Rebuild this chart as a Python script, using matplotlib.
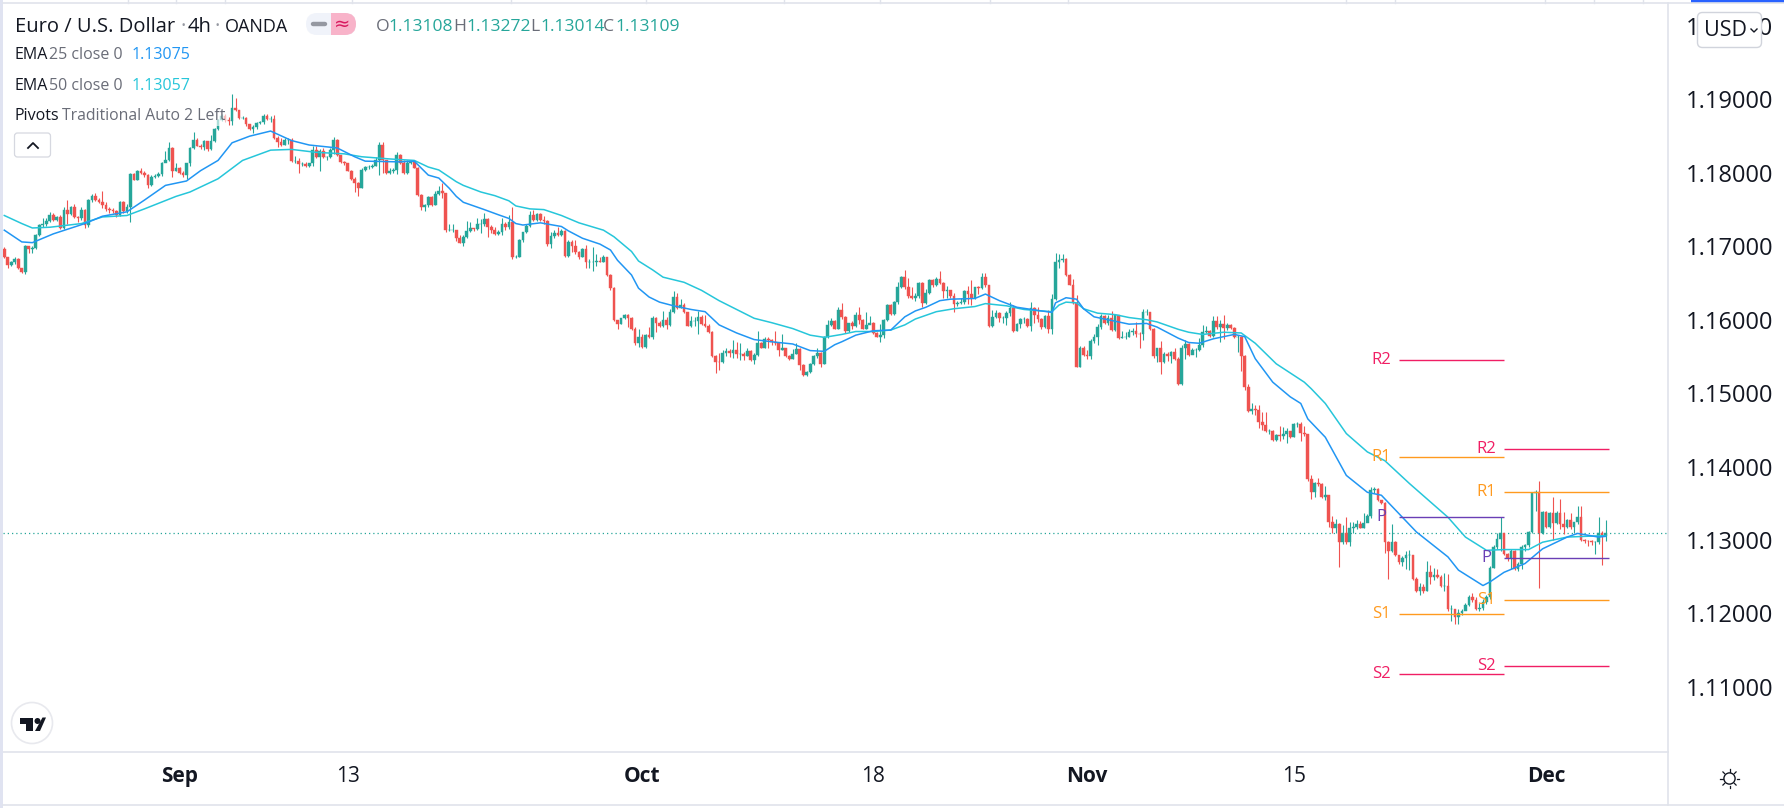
import matplotlib
matplotlib.use("Agg")
import matplotlib.pyplot as plt
import numpy as np
from matplotlib.patches import Rectangle, FancyBboxPatch, Circle, Polygon
from matplotlib.lines import Line2D

W, H = 1784, 808
FONT = "Open Sans"
plt.rcParams["font.family"] = [FONT, "DejaVu Sans"]

# All prices are in pips above 1.10000 (740 means 1.1740)
base_price = 1.10
pip = 0.0001
first_open = 697
close_pips = [
685,674,679,683,670,665,701,697,698,716,
729,730,735,743,736,740,725,749,744,754,
740,738,749,729,763,769,763,761,756,751,
749,748,742,761,748,754,799,791,802,800,
797,783,795,796,798,813,817,834,803,806,
800,797,813,834,845,837,835,843,832,843,
860,872,878,872,871,889,885,875,875,866,
860,863,868,869,877,873,873,848,842,838,
845,845,816,816,812,812,810,813,831,821,
830,821,821,831,845,824,815,813,803,792,
786,780,804,808,808,810,818,838,817,800,
803,804,824,813,800,813,816,807,770,753,
756,767,756,771,775,772,722,722,722,711,
705,713,721,725,723,730,731,737,726,722,
717,719,731,727,733,685,686,708,719,728,
743,736,744,736,735,703,714,718,715,721,
687,706,700,692,685,696,678,678,679,680,
679,685,661,643,599,594,602,606,602,588,
568,576,563,579,576,602,595,591,600,593,
611,631,616,620,610,592,598,598,604,594,
592,583,550,543,542,555,558,555,559,554,
554,551,558,545,552,569,562,574,573,570,
568,559,561,551,547,554,560,539,525,529,
540,551,555,540,577,593,598,588,613,604,
584,595,591,606,600,588,593,596,582,577,
579,600,620,608,624,644,658,644,632,630,
632,650,623,637,654,647,656,650,639,640,
632,621,623,624,639,635,629,644,643,658,
647,591,604,609,602,602,609,616,585,594,
601,601,592,616,606,601,590,605,588,628,
678,682,683,661,648,623,536,561,552,550,
571,576,590,605,595,602,586,607,575,577,
577,583,585,581,580,610,610,588,550,561,
542,554,550,556,547,512,561,567,552,559,
559,565,583,585,578,598,590,594,589,593,
589,576,577,551,509,476,478,477,461,456,
449,449,436,443,442,444,449,440,458,458,
446,444,383,366,378,376,359,361,325,317,
322,297,310,297,317,318,322,317,323,333,
368,369,354,351,297,285,297,279,270,276,
279,279,247,231,236,231,257,250,253,250,
237,237,206,206,195,200,204,211,222,218,
206,208,216,222,262,291,302,309,281,276,
285,260,267,291,293,311,364,365,310,338,
318,337,323,337,322,318,327,318,325,332,
300,299,298,297,297,309,306,309]
high_pips = [
699,686,680,686,684,671,702,701,700,717,
730,739,739,747,746,741,742,753,763,755,
757,741,753,751,764,771,772,766,776,760,
753,752,749,762,762,757,800,800,804,807,
803,798,797,799,801,815,830,842,835,813,
808,802,814,835,856,847,840,845,843,852,
861,873,880,880,876,907,902,886,877,876,
867,865,870,871,880,880,877,879,850,848,
847,848,847,823,820,815,815,814,836,836,
832,834,823,834,849,846,825,816,814,804,
794,787,806,810,811,812,822,842,842,818,
806,806,828,826,818,818,817,817,808,771,
758,769,768,776,782,786,773,730,730,722,
716,715,735,733,725,738,737,746,739,729,
727,722,738,733,742,754,688,710,720,731,
748,749,746,745,741,736,720,722,727,724,
722,708,709,708,693,698,702,683,699,689,
686,688,686,662,644,600,603,608,608,604,
590,587,581,580,590,605,604,598,612,604,
615,639,637,628,623,611,605,604,612,606,
606,594,584,552,555,559,561,560,572,570,
569,556,561,559,555,585,570,577,577,574,
585,570,581,562,552,560,568,562,540,530,
541,552,561,556,578,600,602,599,617,623,
605,596,598,611,617,601,610,605,597,583,
594,601,621,621,626,652,660,668,657,645,
636,652,651,642,656,656,658,666,651,646,
641,637,625,630,641,646,654,645,646,664,
663,648,613,613,610,605,612,624,620,596,
602,604,602,624,617,617,603,606,613,635,
691,689,689,684,662,656,634,564,564,559,
574,580,594,608,606,607,612,608,607,584,
583,587,589,597,583,615,615,611,589,562,
571,556,556,557,562,549,565,573,569,562,
562,575,593,591,586,605,605,599,607,596,
594,590,579,578,552,513,486,484,484,475,
474,451,450,444,455,454,452,449,460,461,
461,455,445,388,379,384,378,373,362,333,
329,323,320,331,325,325,327,326,337,335,
372,372,371,355,352,298,322,298,280,278,
285,287,280,250,241,240,272,266,262,261,
252,255,254,212,206,206,206,214,225,228,
222,214,220,225,264,293,310,331,310,283,
288,286,270,293,295,312,365,368,381,340,
340,338,358,339,356,338,329,337,325,346,
346,302,300,300,299,332,312,327]
low_pips = [
684,671,673,676,669,663,662,691,691,696,
714,727,728,733,735,735,724,724,731,743,
739,733,736,725,727,761,762,759,752,748,
745,746,740,741,746,745,733,790,790,798,
795,780,782,793,794,796,815,816,794,802,
799,795,792,810,833,836,832,831,830,831,
842,858,871,870,865,865,884,874,873,864,
858,855,860,866,866,872,870,846,835,836,
838,839,815,814,800,809,808,808,809,820,
803,820,817,820,826,823,813,811,802,790,
774,769,779,802,805,806,809,797,800,799,
799,800,798,812,798,798,812,806,769,750,
748,753,755,756,770,766,720,721,720,707,
704,700,711,720,721,722,718,728,713,718,
716,716,716,722,723,683,684,685,706,718,
726,735,735,735,730,701,698,712,714,714,
685,686,692,690,683,685,671,671,667,673,
678,678,660,641,598,588,594,601,590,586,
565,563,562,562,575,574,583,590,590,587,
592,609,614,616,609,591,590,591,580,593,
590,582,549,528,531,541,550,549,548,548,
545,545,550,544,540,551,561,561,561,565,
566,551,559,549,545,546,553,532,523,524,
528,538,548,535,540,575,592,587,588,601,
582,583,588,590,594,587,587,594,580,576,
570,575,598,606,607,622,643,642,629,628,
626,630,617,621,635,645,646,649,629,630,
630,610,619,622,622,622,620,628,635,642,
645,590,590,603,597,595,593,605,583,584,
589,595,590,584,595,597,588,589,582,581,
627,670,679,660,647,622,535,536,550,546,
546,569,565,588,594,593,585,585,574,575,
574,576,579,577,562,572,607,586,548,542,
526,541,544,541,545,511,511,547,551,553,
549,558,563,582,576,577,588,570,574,586,
587,575,556,530,504,474,472,470,452,450,
447,445,435,435,435,437,432,439,440,454,
435,442,380,356,358,374,357,355,318,309,
309,263,295,295,292,310,315,316,316,327,
330,364,353,349,282,247,284,278,268,265,
261,259,246,229,225,228,230,240,245,248,
236,231,204,190,186,186,198,205,210,216,
205,203,205,213,220,262,288,285,280,272,
261,259,258,261,285,290,309,340,235,308,
316,316,300,322,315,308,316,315,309,322,
298,296,292,293,281,294,266,299]

ema25_index = [1,6,9,15,24,29,36,41,47,53,57,62,66,71,77,83,88,96,101,104,114,118,122,125,128,130,132,138,142,145,147,149,
               154,160,162,166,171,174,176,180,182,185,188,192,197,201,205,210,215,220,226,231,235,238,240,244,249,254,256,258,
               261,264,268,271,278,281,285,290,297,300,301,304,307,309,312,318,322,327,330,336,339,342,346,352,355,358,363,368,
               371,373,378,384,390,394,399,404,413,416,423,425,429,435,440,447,450,456,458]
ema25_pips = [722,706,705,717,731,741,747,763,783,789,803,817,841,850,857,844,838,834,822,816,815,816,797,793,779,768,760,750,743,738,731,729,
              732,727,721,711,703,695,681,661,643,631,624,619,614,611,593,582,573,570,567,558,557,566,570,579,585,586,595,604,
              612,617,626,628,629,635,626,617,612,610,623,630,628,615,604,598,594,595,590,575,569,568,574,580,577,547,515,495,
              486,465,440,388,365,361,336,311,277,259,238,243,256,268,288,304,309,304,305]
ema50_index = [1,6,9,14,23,29,36,41,50,54,62,69,77,83,90,98,103,111,118,122,125,130,132,137,141,145,147,151,155,160,165,172,175,180,182,
               186,189,195,200,205,210,215,220,226,231,235,240,244,249,254,258,261,267,272,278,281,287,292,297,300,302,304,307,309,
               313,318,322,327,330,336,339,343,349,354,358,364,372,374,378,384,390,395,402,413,418,424,429,436,440,447,452,458]
ema50_pips = [742,731,725,726,731,740,742,751,768,774,792,817,831,832,828,826,822,819,817,808,804,788,783,774,769,762,755,751,750,742,732,722,713,693,680,
              668,658,651,640,626,614,602,596,588,579,576,580,584,584,586,593,601,611,615,618,622,619,614,612,611,620,624,623,615,
              609,607,603,600,597,587,583,580,583,582,568,540,515,506,486,445,420,408,377,331,304,286,287,287,297,304,305,306]

pivot_names = ["R2", "R1", "P", "S1", "S2"]
pivot_colors = ["#f01e64", "#ff9a1f", "#6a3fb5", "#ff9a1f", "#f01e64"]
pivots_left = [545, 413, 331, 199, 117]
pivots_right = [424, 366, 276, 218, 128]
pivot_span_left = (399, 429)
pivot_span_right = (429, 459)
pivot_label_x = (394, 424)

last_price = 1.1309
price_ticks = [1.11, 1.12, 1.13, 1.14, 1.15, 1.16, 1.17, 1.18, 1.19, 1.20]
time_tick_index = [51, 99, 183, 249, 310, 369, 441]
time_tick_labels = ["Sep", "13", "Oct", "18", "Nov", "15", "Dec"]
month_labels = {"Sep", "Oct", "Nov", "Dec"}

UP, DOWN = "#26a69a", "#ef5350"
BLUE, CYAN = "#2196f3", "#26c6da"
BORDER = "#e0e3eb"
DARK = "#131722"
GRAY = "#6a6d78"


def to_price(values):
    return base_price + np.asarray(values, dtype=float) * pip


fig = plt.figure(figsize=(W / 100, H / 100), dpi=100, facecolor="white")
ax = fig.add_axes([3 / W, 1 - 752 / H, (1668 - 3) / W, (752 - 3) / H])

closes = to_price(close_pips)
opens = np.concatenate([[to_price(first_open)], closes[:-1]])
highs = to_price(high_pips)
lows = to_price(low_pips)
idx = np.arange(1, len(closes) + 1)
colors = np.where(closes >= opens, UP, DOWN)

ax.axhline(last_price, color=UP, lw=0.9, ls=(0, (1, 2.4)), zorder=1)
ax.vlines(idx, lows, highs, colors=colors, lw=0.8, zorder=2)
ax.bar(idx, closes - opens, bottom=opens, width=0.78, color=colors, edgecolor=colors, linewidth=0.3, zorder=3)
ax.plot(ema50_index, to_price(ema50_pips), color=CYAN, lw=1.1, zorder=4)
ax.plot(ema25_index, to_price(ema25_pips), color=BLUE, lw=1.1, zorder=4)

for name, col, lv, rv in zip(pivot_names, pivot_colors, pivots_left, pivots_right):
    ax.hlines(to_price(lv), *pivot_span_left, color=col, lw=1.0, zorder=5)
    ax.hlines(to_price(rv), *pivot_span_right, color=col, lw=1.0, zorder=5)
    ax.text(pivot_label_x[0], to_price(lv), name, color=col, fontsize=12, ha="center", va="center", zorder=5)
    ax.text(pivot_label_x[1], to_price(rv), name, color=col, fontsize=12, ha="center", va="center", zorder=5)

ax.set_xlim(0.629, 475.8)
ax.set_ylim(1.10113, 1.20314)
ax.yaxis.tick_right()
ax.set_yticks(price_ticks)
ax.set_yticklabels([f"{t:.5f}" for t in price_ticks], fontsize=17, color=DARK)
ax.set_xticks(time_tick_index)
ax.set_xticklabels(time_tick_labels, fontsize=15, color=DARK)
for lab in ax.get_xticklabels():
    if lab.get_text() in month_labels:
        lab.set_fontweight("bold")
ax.tick_params(axis="both", length=0)
ax.tick_params(axis="y", pad=13)
ax.tick_params(axis="x", pad=10)
for s in ("left", "top"):
    ax.spines[s].set_visible(False)
for s in ("right", "bottom"):
    ax.spines[s].set_color(BORDER)
    ax.spines[s].set_linewidth(1.2)

# interface overlay, laid out in screen pixels
ui = fig.add_axes([0, 0, 1, 1], zorder=10, facecolor="none")
ui.set_xlim(0, W)
ui.set_ylim(H, 0)
ui.axis("off")

ui.add_patch(Rectangle((0, 0), 3, H, color="#e0e3f1", lw=0))
ui.add_patch(Rectangle((1691, 0), W - 1691, 3, color="#2962ff", lw=0))
ui.add_line(Line2D([3, W], [3, 3], color=BORDER, lw=1.2))
ui.add_line(Line2D([3, W], [805, 805], color=BORDER, lw=1.2))
ui.add_line(Line2D([1668, 1668], [752, 805], color=BORDER, lw=1.2))
for sx in [128, 176, 225, 352, 511, 646, 784, 880, 990, 1068, 1346, 1395, 1545, 1594, 1643]:
    ui.add_line(Line2D([sx, sx], [0, 3], color=BORDER, lw=1))


def put(x, y, s, color=DARK, size=12.6, weight="normal", ha="left"):
    return ui.text(x, y, s, color=color, fontsize=size, fontweight=weight, ha=ha, va="center")


put(15, 27, "Euro / U.S. Dollar", size=14.5)
put(180, 27, "·", color="#9598a1", size=14.5)
put(188, 27, "4h", size=14.5)
put(215, 27, "·", color="#9598a1", size=14.5)
put(225, 27, "OANDA", size=13)

# status pill
ui.add_patch(FancyBboxPatch((306, 13), 50, 22, boxstyle="round,pad=0,rounding_size=11", fc="#f0f3fa", ec="none"))
pink = FancyBboxPatch((306, 13), 50, 22, boxstyle="round,pad=0,rounding_size=11", fc="#f8b3c9", ec="none")
ui.add_patch(pink)
pink.set_clip_path(Rectangle((331, 13), 25, 22, transform=ui.transData))
ui.add_line(Line2D([313, 325], [24, 24], color="#9598a1", lw=3.2, solid_capstyle="round"))
ui.text(342, 24, "≈", color="#d81b60", fontsize=14, ha="center", va="center", family=["DejaVu Sans"])

# OHLC row
ohlc_tags = ["O", "H", "L", "C"]
ohlc_values = ["1.13108", "1.13272", "1.13014", "1.13109"]
for tag, val, tx, vx in zip(ohlc_tags, ohlc_values, [376, 453, 530, 603], [388, 466, 540, 615]):
    put(tx, 27, tag, color=GRAY, size=12.6)
    put(vx, 27, val, color=UP, size=12.6)

put(15, 55, "EMA", size=11.5)
put(49, 55, "25 close 0", color=GRAY, size=11.5)
put(132, 55, "1.13075", color=BLUE, size=11.5)
put(15, 85.5, "EMA", size=11.5)
put(49, 85.5, "50 close 0", color=GRAY, size=11.5)
put(132, 85.5, "1.13057", color=CYAN, size=11.5)
ui.add_patch(Rectangle((14, 103), 214, 23, fc="white", ec="none", alpha=0.62))
put(15, 116, "Pivots", size=11.5)
put(62, 116, "Traditional Auto 2 Left", color=GRAY, size=11.3)

# collapse button
ui.add_patch(FancyBboxPatch((14.5, 133), 36, 24, boxstyle="round,pad=0,rounding_size=3", fc="white", ec="#d6d8e0", lw=0.9))
ui.add_line(Line2D([28, 33, 38], [148, 143, 148], color=DARK, lw=1.3))

# currency button
ui.add_patch(FancyBboxPatch((1697.5, 12.5), 64, 35, boxstyle="round,pad=0,rounding_size=5", fc="white", ec="#d1d4dc", lw=1))
put(1704, 30, "USD", size=15.5, ha="left")
ui.add_line(Line2D([1751, 1754, 1757], [29, 32, 29], color=DARK, lw=1))

# TradingView mark
ui.add_patch(Circle((32, 723), 20.5, fc="white", ec="#e8e9ee", lw=1.2))
ui.add_patch(Polygon([(19.5, 718), (33, 718), (33, 731), (26, 731), (26, 724), (19.5, 724)], fc=DARK, ec="none"))
ui.add_patch(Circle((37.5, 721), 3.0, fc=DARK, ec="none"))
ui.add_patch(Polygon([(35, 731), (42.5, 717.5), (46, 717.5), (40, 731)], fc=DARK, ec="none"))

# settings sun
ui.add_patch(Circle((1729.5, 778.5), 5.6, fc="white", ec=DARK, lw=1))
for a in np.deg2rad([0, 45, 90, 135, 180, 225, 270, 315]):
    ui.add_line(Line2D([1729.5 + 7 * np.cos(a), 1729.5 + 9.3 * np.cos(a)],
                       [778.5 + 7 * np.sin(a), 778.5 + 9.3 * np.sin(a)], color=DARK, lw=0.9))

fig.savefig("out.png", dpi=100, facecolor="white")
